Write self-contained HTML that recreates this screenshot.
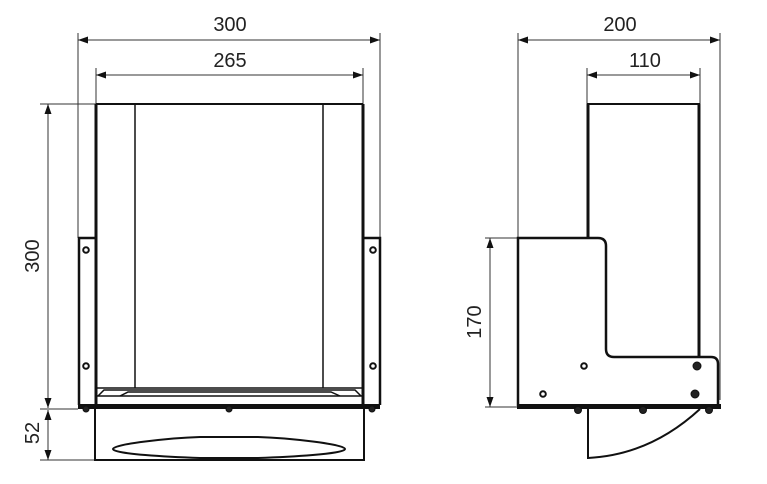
<!DOCTYPE html>
<html><head><style>html,body{margin:0;padding:0;background:#fff}svg{display:block}text{font-family:"Liberation Sans",sans-serif;font-size:20px;fill:#222}</style></head><body>
<svg width="767" height="484" viewBox="0 0 767 484" xmlns="http://www.w3.org/2000/svg">
<defs><marker id="a" viewBox="0 0 10 10" refX="10" refY="5" markerWidth="10" markerHeight="10" orient="auto-start-reverse" markerUnits="userSpaceOnUse"><path d="M0,1.5 L10,5 L0,8.5z" fill="#111"/></marker></defs>
<g stroke="#333" stroke-width="1" fill="none">
<line x1="78" y1="33" x2="78" y2="238"/><line x1="380" y1="33" x2="380" y2="238"/>
<line x1="96" y1="68" x2="96" y2="104"/><line x1="363" y1="68" x2="363" y2="104"/>
<line x1="78" y1="40" x2="380" y2="40" marker-start="url(#a)" marker-end="url(#a)"/>
<line x1="96" y1="75" x2="363" y2="75" marker-start="url(#a)" marker-end="url(#a)"/>
<line x1="40" y1="104" x2="96" y2="104"/><line x1="40" y1="409" x2="78" y2="409"/><line x1="40" y1="460" x2="95" y2="460"/>
<line x1="48" y1="104" x2="48" y2="408" marker-start="url(#a)" marker-end="url(#a)"/>
<line x1="48" y1="410" x2="48" y2="460" marker-start="url(#a)" marker-end="url(#a)"/>
<line x1="518" y1="33" x2="518" y2="238"/><line x1="720" y1="33" x2="720" y2="400"/>
<line x1="587" y1="68" x2="587" y2="104"/><line x1="700" y1="68" x2="700" y2="104"/>
<line x1="518" y1="40" x2="720" y2="40" marker-start="url(#a)" marker-end="url(#a)"/>
<line x1="587" y1="75" x2="700" y2="75" marker-start="url(#a)" marker-end="url(#a)"/>
<line x1="485" y1="238" x2="518" y2="238"/><line x1="485" y1="407" x2="518" y2="407"/>
<line x1="490" y1="238" x2="490" y2="407" marker-start="url(#a)" marker-end="url(#a)"/>
</g>
<text x="230" y="31" text-anchor="middle">300</text>
<text x="230" y="67" text-anchor="middle">265</text>
<text x="620" y="31" text-anchor="middle">200</text>
<text x="645" y="67" text-anchor="middle">110</text>
<text transform="translate(39,256) rotate(-90)" text-anchor="middle">300</text>
<text transform="translate(39,433) rotate(-90)" text-anchor="middle">52</text>
<text transform="translate(481,322) rotate(-90)" text-anchor="middle">170</text>
<g stroke="#111" fill="none">
<line x1="96" y1="104" x2="363" y2="104" stroke-width="2"/>
<line x1="96" y1="104" x2="96" y2="405" stroke-width="3"/>
<line x1="363" y1="104" x2="363" y2="405" stroke-width="3"/>
<line x1="135" y1="104" x2="135" y2="388" stroke-width="1.5"/>
<line x1="323" y1="104" x2="323" y2="388" stroke-width="1.5"/>
<path d="M96,238 H79 V405 M363,238 H380 V405" stroke-width="2.5"/>
<line x1="96" y1="388" x2="363" y2="388" stroke-width="1.5"/>
<path d="M98,396 L104,390 H355 L361,396 M120,396 L128,392 H331 L340,396" stroke-width="1.5"/>
<line x1="96" y1="396" x2="363" y2="396" stroke-width="1.5"/>
<rect x="78" y="404" width="302" height="5" fill="#111" stroke="none"/>
<path d="M95,409 V460 H364 V409" stroke-width="2"/>
<path d="M113,449 C113,444 170,438 200,437 H258 C288,438 345,444 345,449 C345,454 288,457 258,458 H200 C170,457 113,454 113,449z" stroke-width="2"/>
<g stroke-width="2" fill="#fff"><circle cx="86" cy="250" r="2.8"/><circle cx="86" cy="366" r="2.8"/><circle cx="373" cy="250" r="2.8"/><circle cx="373" cy="366" r="2.8"/></g>
</g>
<g stroke="#111" fill="none">
<line x1="587" y1="104" x2="700" y2="104" stroke-width="2"/>
<line x1="588" y1="104" x2="588" y2="238" stroke-width="3"/>
<line x1="699" y1="104" x2="699" y2="357" stroke-width="3"/>
<path d="M518,406 V238 H598 Q606,238 606,246 V349 Q606,357 614,357 H711 Q718,357 718,364 V406" stroke-width="2.5"/>
<rect x="517" y="404" width="204" height="5" fill="#111" stroke="none"/>
<path d="M588,409 V458 Q650,455 700,409" stroke-width="2"/>
<g stroke-width="2" fill="#fff"><circle cx="584" cy="366" r="2.8"/><circle cx="543" cy="394" r="2.8"/></g>
<g fill="#222"><circle cx="697" cy="366" r="4"/><circle cx="695" cy="394" r="4"/><circle cx="578" cy="410" r="3.5"/><circle cx="643" cy="410" r="3.5"/><circle cx="709" cy="410" r="3.5"/><circle cx="229" cy="409" r="3"/><circle cx="86" cy="409" r="3"/><circle cx="372" cy="409" r="3"/></g>
</g>
</svg>
</body></html>
